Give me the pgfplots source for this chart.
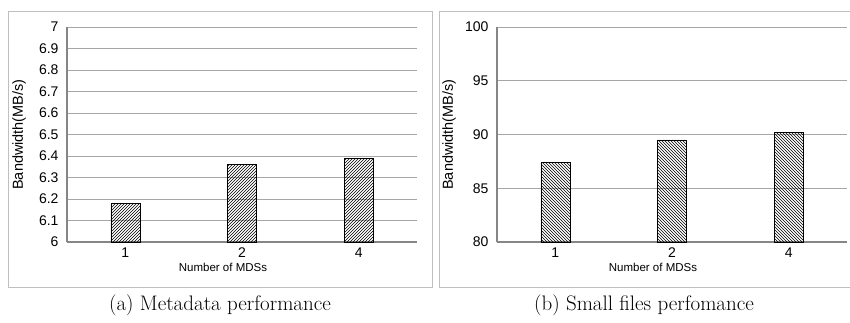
\documentclass[border=0pt]{standalone}
\usepackage{fontspec}
\usepackage{pgfplots}
\pgfplotsset{compat=1.18}
\usetikzlibrary{patterns}
\newfontfamily\arial{Liberation Sans}
\definecolor{gridc}{HTML}{A6A6A6}
\definecolor{axc}{HTML}{868686}
\definecolor{framec}{HTML}{BFBFBF}
\pgfplotsset{mybar/.style={
  scale only axis, width=350pt, height=215pt,
  xmin=-0.5, xmax=2.5, xtick={0,1,2}, xticklabels={1,2,4},
  axis x line*=bottom, axis y line*=left,
  axis line style={axc, line width=1.5pt},
  ymajorgrids, grid style={gridc, line width=1pt},
  major tick length=0pt,
  /pgf/number format/assume math mode=true,
  tick label style={font=\arial\fontsize{14}{16}\selectfont},
  yticklabel style={xshift=-5pt},
  xticklabel style={yshift=-2pt},
  xlabel={Number of MDSs},
  xlabel style={font=\arial\fontsize{11.5}{13}\selectfont, at={(axis description cs:0.5,0)}, anchor=center, yshift=-25pt, xshift=-19pt},
  ylabel={Bandwidth(MB/s)},
  ylabel style={font=\arial\fontsize{14.5}{16}\selectfont, at={(axis description cs:0,0.5)}, anchor=center, yshift=48pt},
}}
\begin{document}
\begin{tikzpicture}
\useasboundingbox (0pt,0pt) rectangle (850pt,322pt);
\draw[framec, line width=1pt] (8pt,35pt) rectangle (432pt,310pt);
\draw[framec, line width=1pt] (439pt,35pt) rectangle (855pt,310pt);
\begin{axis}[mybar, at={(67pt,80pt)}, anchor=south west,
  ymin=6, ymax=7, ytick={6,6.1,6.2,6.3,6.4,6.5,6.6,6.7,6.8,6.9,7}]
\addplot[ybar, bar width=29pt, draw=black, line width=0.6pt, fill=white, pattern=north east lines] coordinates {(0,6.18) (1,6.36) (2,6.39)};
\end{axis}
\begin{axis}[mybar, at={(497pt,80pt)}, anchor=south west,
  ymin=80, ymax=100, ytick={80,85,90,95,100}]
\addplot[ybar, bar width=29pt, draw=black, line width=0.6pt, fill=white, pattern=north west lines] coordinates {(0,87.4) (1,89.5) (2,90.2)};
\end{axis}
\node[font=\fontsize{21}{24}\selectfont, anchor=base] at (220pt,12pt) {(a) Metadata performance};
\node[font=\fontsize{21}{24}\selectfont, anchor=base] at (644pt,12pt) {(b) Small files perfomance};
\end{tikzpicture}
\end{document}
